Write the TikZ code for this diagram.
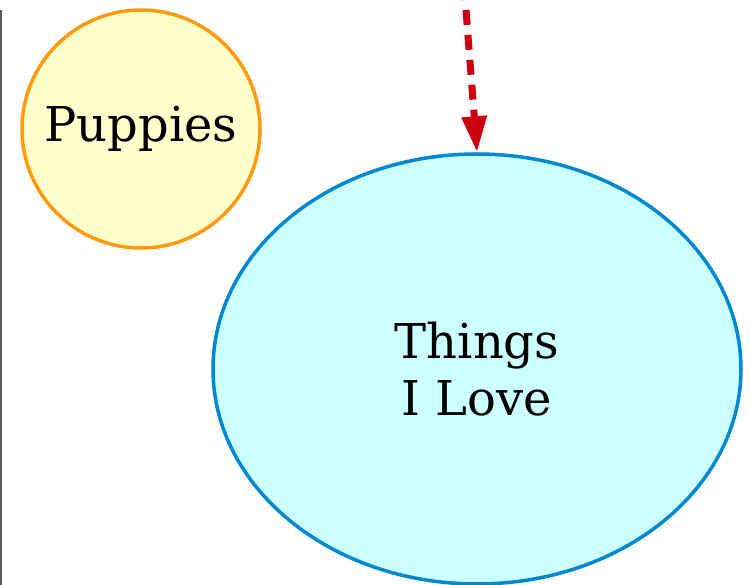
\documentclass[tikz,border=0pt]{standalone}
\usepackage{fontspec}
\setmainfont{DejaVu Serif}
\usetikzlibrary{shapes.geometric,arrows.meta}
\definecolor{puporange}{HTML}{FF9A0F}
\definecolor{pupfill}{HTML}{FFFFCC}
\definecolor{lovefill}{HTML}{CCFFFF}
\definecolor{loveblue}{HTML}{0088D0}
\definecolor{arrowred}{HTML}{CC0011}
\begin{document}
\begin{tikzpicture}[x=1pt,y=-1pt,
  txt/.style={font=\fontsize{48}{57}\selectfont, align=center, text=black},
  pupnode/.style={circle, draw=puporange, fill=pupfill, line width=3.5pt, minimum size=238pt, inner sep=0pt, txt},
  lovenode/.style={ellipse, draw=loveblue, fill=lovefill, line width=3.5pt, minimum width=528pt, minimum height=430pt, inner sep=0pt, txt},
  redarrow/.style={draw=arrowred, line width=7pt, dash pattern=on 15pt off 10pt, dash phase=12pt, -{Triangle[length=36pt,width=24pt]}, arrowred}]
\useasboundingbox (0,0) rectangle (750,585);
\fill[white] (0,0) rectangle (750,585);
\draw[gray!70!black, line width=1.5pt] (0.75,10) -- (0.75,585);
\node[pupnode] (pup) at (141,129) {Puppies};
\node[lovenode] (love) at (477,369) {Things\\I Love};
\coordinate (src) at (465,-3);
\draw[redarrow] (src) -- (love.north);
\end{tikzpicture}
\end{document}
